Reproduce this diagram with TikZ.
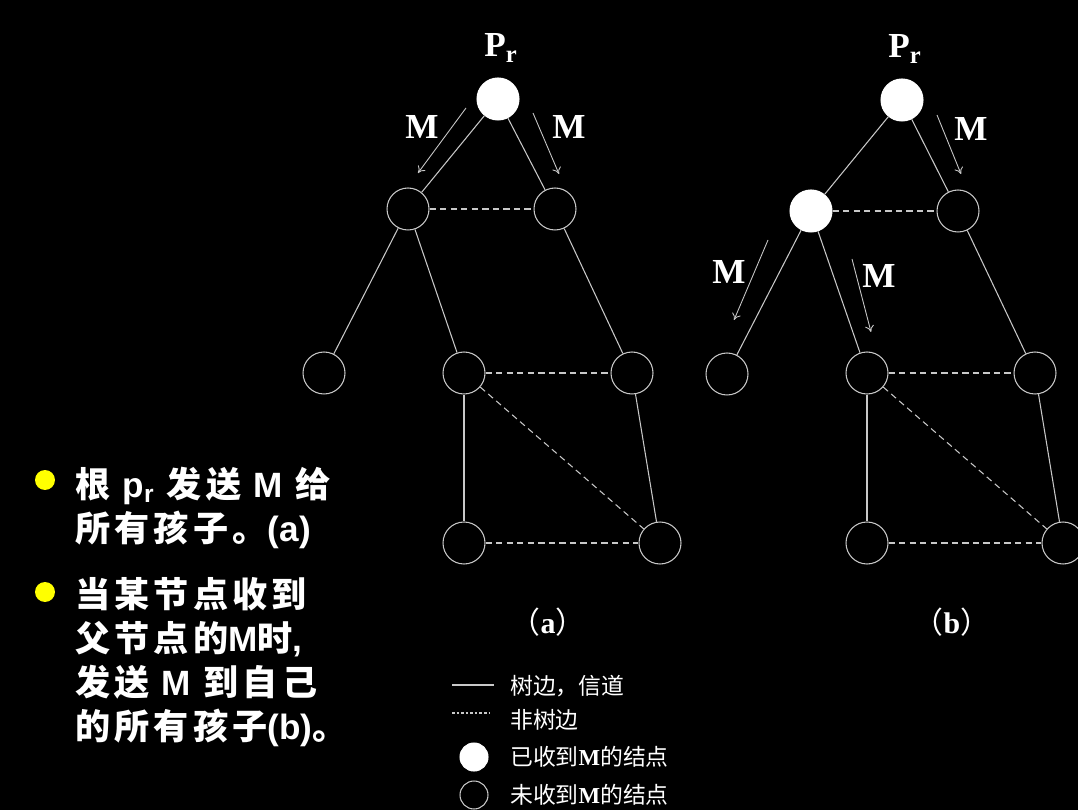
\documentclass[tikz,border=0pt]{standalone}
\usepackage{fontspec}
\setmainfont{Liberation Serif}
\newfontfamily\cjk{Noto Sans CJK SC}
\newfontfamily\cjkb{Noto Sans CJK SC}[LetterSpace=12]
\newfontfamily\arl{Liberation Sans}
\usetikzlibrary{arrows.meta}
\definecolor{lgray}{RGB}{200,200,200}
\definecolor{dotyel}{RGB}{255,255,0}

\begin{document}
\begin{tikzpicture}[
  x=0.02cm,y=-0.02cm,
  nd/.style={circle,draw=lgray,line width=0.6pt,minimum size=0.84cm,inner sep=0pt},
  got/.style={nd,draw=white,fill=white},
  tre/.style={draw=lgray,line width=0.6pt},
  ntre/.style={tre,dash pattern=on 3.6pt off 2.4pt},
  msg/.style={-{To[length=1.3mm,width=1.8mm]},draw=lgray,line width=0.5pt},
  mlab/.style={text=white,font=\bfseries\fontsize{20}{20}\selectfont},
  sublab/.style={text=white,font=\fontsize{17}{17}\selectfont},
  leg/.style={anchor=west,text=white,font=\cjk\fontsize{13}{13}\selectfont},
  bul/.style={circle,fill=dotyel,minimum size=0.4cm,inner sep=0pt},
  say/.style={anchor=base west,align=left,text=white,font=\cjkb\bfseries\fontsize{20}{25}\selectfont}
]
\fill[black] (0,0) rectangle (1078,810);
\useasboundingbox (0,0) rectangle (1078,810);

% (a)
\node[got] (ra) at (498,99) {};
\node[nd] (a1) at (408,209) {};
\node[nd] (a2) at (555,209) {};
\node[nd] (a3) at (324,373) {};
\node[nd] (a4) at (464,373) {};
\node[nd] (a5) at (632,373) {};
\node[nd] (a6) at (464,543) {};
\node[nd] (a7) at (660,543) {};
\draw[tre] (ra) -- (a1);
\draw[tre] (ra) -- (a2);
\draw[tre] (a1) -- (a3);
\draw[tre] (a1) -- (a4);
\draw[tre] (a2) -- (a5);
\draw[tre] (a4) -- (a6);
\draw[tre] (a5) -- (a7);
\draw[ntre] (a1) -- (a2);
\draw[ntre] (a4) -- (a5);
\draw[ntre] (a4) -- (a7);
\draw[ntre] (a6) -- (a7);
\node[mlab] (pa) at (501,48) {P\textsubscript{r}};
\coordinate (ma1) at (466,108);
\coordinate (ma2) at (418,173);
\coordinate (ma3) at (533,113);
\coordinate (ma4) at (559,174);
\draw[msg] (ma1) -- (ma2);
\draw[msg] (ma3) -- (ma4);
\node[mlab] (la1) at (422,127) {M};
\node[mlab] (la2) at (569,127) {M};
\node[sublab] (ca) at (548,622) {{\cjk （}\textbf{a}{\cjk ）}};

% (b)
\node[got] (rb) at (902,100) {};
\node[got] (b1) at (811,211) {};
\node[nd] (b2) at (958,211) {};
\node[nd] (b3) at (727,374) {};
\node[nd] (b4) at (867,373) {};
\node[nd] (b5) at (1035,373) {};
\node[nd] (b6) at (867,543) {};
\node[nd] (b7) at (1063,543) {};
\draw[tre] (rb) -- (b1);
\draw[tre] (rb) -- (b2);
\draw[tre] (b1) -- (b3);
\draw[tre] (b1) -- (b4);
\draw[tre] (b2) -- (b5);
\draw[tre] (b4) -- (b6);
\draw[tre] (b5) -- (b7);
\draw[ntre] (b1) -- (b2);
\draw[ntre] (b4) -- (b5);
\draw[ntre] (b4) -- (b7);
\draw[ntre] (b6) -- (b7);
\node[mlab] (pb) at (905,49) {P\textsubscript{r}};
\coordinate (mb1) at (937,115);
\coordinate (mb2) at (961,174);
\coordinate (mb3) at (768,240);
\coordinate (mb4) at (734,320);
\coordinate (mb5) at (852,259);
\coordinate (mb6) at (871,332);
\draw[msg] (mb1) -- (mb2);
\draw[msg] (mb3) -- (mb4);
\draw[msg] (mb5) -- (mb6);
\node[mlab] (lb1) at (971,129) {M};
\node[mlab] (lb2) at (729,272) {M};
\node[mlab] (lb3) at (879,276) {M};
\node[sublab] (cb) at (952,622) {{\cjk （}\textbf{b}{\cjk ）}};

% legend
\coordinate (g1) at (452,685);
\coordinate (g2) at (494,685);
\coordinate (g3) at (452,713);
\coordinate (g4) at (490,713);
\draw[tre,line width=0.9pt] (g1) -- (g2);
\draw[tre,line width=1pt,dash pattern=on 1.5pt off 1.1pt] (g3) -- (g4);
\node[got,minimum size=0.56cm] (gf) at (474,757) {};
\node[nd,minimum size=0.56cm] (ge) at (474,795) {};
\node[leg] (t1) at (504,686) {树边，信道};
\node[leg] (t2) at (504,720) {非树边};
\node[leg] (t3) at (504,757) {已收到{\rmfamily\bfseries M}的结点};
\node[leg] (t4) at (504,795) {未收到{\rmfamily\bfseries M}的结点};

% text
\node[bul] (d1) at (45,480) {};
\node[bul] (d2) at (45,592) {};
\node[say] (s1) at (69,541) {根 {\arl p\textsubscript{r}} 发送 {\arl M} 给\\所有孩子。{\arl(a)}};
\node[say] (s2) at (69,739) {当某节点收到\\父节点的{\arl M}时{\arl ,}\\发送 {\arl M} 到自己\\的所有孩子{\arl(b)}。};
\end{tikzpicture}
\end{document}
